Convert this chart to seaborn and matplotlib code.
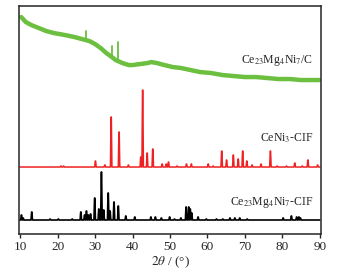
import numpy as np
import pandas as pd
import matplotlib
matplotlib.use("Agg")
import matplotlib.pyplot as plt
import seaborn as sns

# green measured pattern, smooth band (2theta, intensity in plot units)
green_x = [10.3, 11.5, 13.0, 15.0, 17.0, 19.0, 22.0, 24.5, 26.5, 28.5, 30.0,
           31.5, 33.0, 34.5, 35.5, 37.3, 39.0, 40.0, 42.0, 44.0,
           45.0, 46.5, 48.5, 50.7, 53.0, 55.5, 58.0, 61.0, 64.0, 67.0, 70.0, 73.0, 76.0,
           79.0, 82.0, 85.0, 87.5, 89.8]
green_y = [217, 212, 209, 206, 203, 201, 199, 197, 195, 193, 190,
           186, 181, 177, 174, 171, 169, 169, 170, 171,
           172, 171, 169, 167, 166, 164, 162, 161, 159, 158, 157, 157, 156,
           155, 155, 154, 154, 154]
# narrow spikes on the green pattern
spike_pos = [27.5, 34.6, 36.0]
spike_base = [195, 177, 174]
spike_top = [203, 188, 192]

# CeNi3-CIF sticks
red_base = 67
red_pos = [20.9, 21.6, 30.1, 32.6, 34.3, 36.4, 38.9, 42.2, 42.7, 43.9, 45.4, 47.9, 49.0, 49.6,
           51.9, 54.4, 55.7, 60.2, 61.5, 63.8, 65.1, 66.9, 68.2, 69.4, 70.5, 71.9, 74.3,
           76.8, 78.6, 81.1, 83.3, 85.3, 86.8, 89.4]
red_h = [1, 1, 6, 2, 50, 35, 2, 10, 77, 14, 18, 3, 3, 5,
         1, 3, 3, 3, 1, 16, 7, 12, 8, 16, 6, 2, 3,
         16, 1, 1, 4, 1, 7, 2]

# Ce23Mg4Ni7-CIF sticks
black_base = 14
black_pos = [10.35, 10.8, 13.1, 18.0, 20.2, 23.9, 26.2, 27.2, 27.7, 28.2, 28.8, 29.9, 31.0, 31.7,
             32.3, 33.5, 34.0, 35.05, 36.2, 38.2, 40.6, 44.9, 46.1, 47.7, 49.9, 51.2, 52.9,
             54.3, 55.0, 55.4, 55.8, 57.5, 59.7, 62.4, 64.1, 66.0, 67.3, 68.6, 70.6, 80.2,
             82.4, 83.8, 84.4, 84.8]
black_h = [5, 2, 8, 1, 1, 1, 8, 5, 9, 5, 6, 22, 11, 48,
           10, 27, 9, 18, 14, 4, 3, 3, 3, 2, 3, 1, 2,
           13, 13, 11, 7, 3, 1, 1, 1, 2, 2, 2, 1, 2,
           4, 3, 3, 2]

labels = ["Ce$_{23}$Mg$_4$Ni$_7$/C", "CeNi$_3$-CIF", "Ce$_{23}$Mg$_4$Ni$_7$-CIF"]
label_y = [174, 96, 32]


def sticks(pos, h, base, w=0.2):
    xs, ys = [9.9], [base]
    for p, v in zip(pos, h):
        xs += [p - w, p - 0.04, p + 0.04, p + w]
        ys += [base, base + v, base + v, base]
    xs.append(90.0)
    ys.append(base)
    return pd.DataFrame({"x": xs, "y": ys})


sns.set_style("ticks")
plt.rcParams["font.family"] = ["Liberation Serif", "DejaVu Serif"]
plt.rcParams["mathtext.fontset"] = "stix"

fig = plt.figure(figsize=(3.42, 2.72), dpi=100)
ax = fig.add_axes([0.0556, 0.1397, 0.883, 0.838])

green = pd.DataFrame({"x": green_x, "y": green_y})
spikes_x, spikes_y = [], []
for p, b, t in zip(spike_pos, spike_base, spike_top):
    spikes_x += [p, p, np.nan]
    spikes_y += [b, t, np.nan]
red = sticks(red_pos, red_h, red_base)
black = sticks(black_pos, black_h, black_base)

sns.lineplot(data=green, x="x", y="y", ax=ax, color="#6cbf3f", lw=3.2, sort=False, estimator=None)
ax.plot(spikes_x, spikes_y, color="#6cbf3f", lw=1.3)
sns.lineplot(data=red, x="x", y="y", ax=ax, color="#ee2222", lw=1.1, sort=False, estimator=None)
sns.lineplot(data=black, x="x", y="y", ax=ax, color="black", lw=1.2, sort=False, estimator=None)

for t, yy in zip(labels, label_y):
    ax.text(88.3, yy, t, ha="right", va="center", fontsize=8.5)

ax.set_xlim(9.7, 90.3)
ax.set_ylim(0, 228)
ax.set_xticks(range(10, 91, 10))
ax.set_yticks([])
ax.tick_params(axis="x", direction="out", length=3, width=1, labelsize=9.5, pad=2)
for s in ax.spines.values():
    s.set_linewidth(1.1)
    s.set_visible(True)
ax.set_xlabel(r"$\mathit{2\theta}$ / (°)", fontsize=9.5, labelpad=1)
ax.set_ylabel("")

fig.savefig("out.png", dpi=100)
